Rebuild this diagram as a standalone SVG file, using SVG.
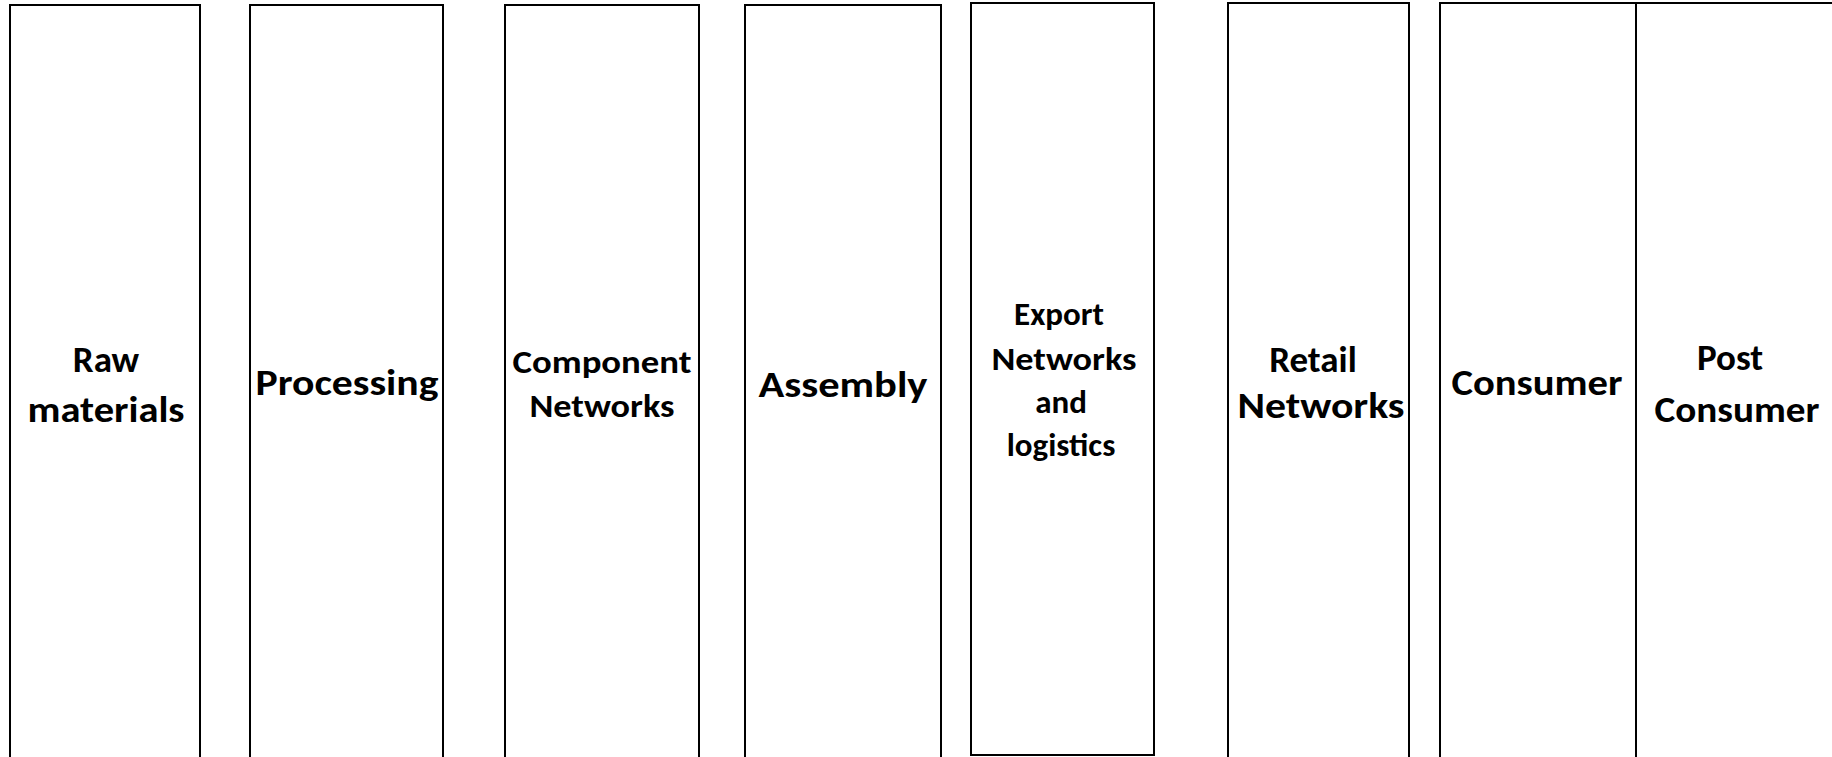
<svg xmlns="http://www.w3.org/2000/svg" width="1832" height="757" viewBox="0 0 1832 757">
<style>
.box{fill:#fff;stroke:#000;stroke-width:2}
.t{font-family:Carlito,Calibri,Lato,"Noto Sans",sans-serif;font-weight:bold;fill:#000;text-anchor:middle}
.L{font-size:37px}
.M{font-size:33px}
</style>
<rect width="1832" height="757" fill="#fff"/>
<g id="raw-materials">
<rect class="box" x="10" y="5" width="190" height="770"/>
<text class="t L" x="106" y="372">Raw</text>
<text class="t L" x="106" y="422" textLength="157" lengthAdjust="spacingAndGlyphs">materials</text>
</g>
<g id="processing">
<rect class="box" x="250" y="5" width="193" height="770"/>
<text class="t L" x="347" y="395" textLength="183" lengthAdjust="spacingAndGlyphs">Processing</text>
</g>
<g id="component-networks">
<rect class="box" x="505" y="5" width="194" height="770"/>
<text class="t M" x="602" y="373" textLength="179" lengthAdjust="spacingAndGlyphs">Component</text>
<text class="t M" x="602" y="417" textLength="145" lengthAdjust="spacingAndGlyphs">Networks</text>
</g>
<g id="assembly">
<rect class="box" x="745" y="5" width="196" height="770"/>
<text class="t L" x="843" y="397" textLength="169" lengthAdjust="spacingAndGlyphs">Assembly</text>
</g>
<g id="export-networks">
<rect class="box" x="971" y="3" width="183" height="752"/>
<text class="t M" x="1059" y="325">Export</text>
<text class="t M" x="1064" y="370" textLength="145" lengthAdjust="spacingAndGlyphs">Networks</text>
<text class="t M" x="1061" y="413">and</text>
<text class="t M" x="1061" y="456">logistics</text>
</g>
<g id="retail-networks">
<rect class="box" x="1228" y="3" width="181" height="770"/>
<text class="t L" x="1313" y="372">Retail</text>
<text class="t L" x="1321" y="418" textLength="167" lengthAdjust="spacingAndGlyphs">Networks</text>
</g>
<g id="consumer">
<rect class="box" x="1440" y="3" width="196" height="770"/>
<text class="t L" x="1537" y="395" textLength="171" lengthAdjust="spacingAndGlyphs">Consumer</text>
</g>
<g id="post-consumer">
<rect class="box" x="1636" y="3" width="210" height="770"/>
<text class="t L" x="1730" y="370">Post</text>
<text class="t L" x="1737" y="422" textLength="165" lengthAdjust="spacingAndGlyphs">Consumer</text>
</g>
<g id="connectors"></g>
</svg>
